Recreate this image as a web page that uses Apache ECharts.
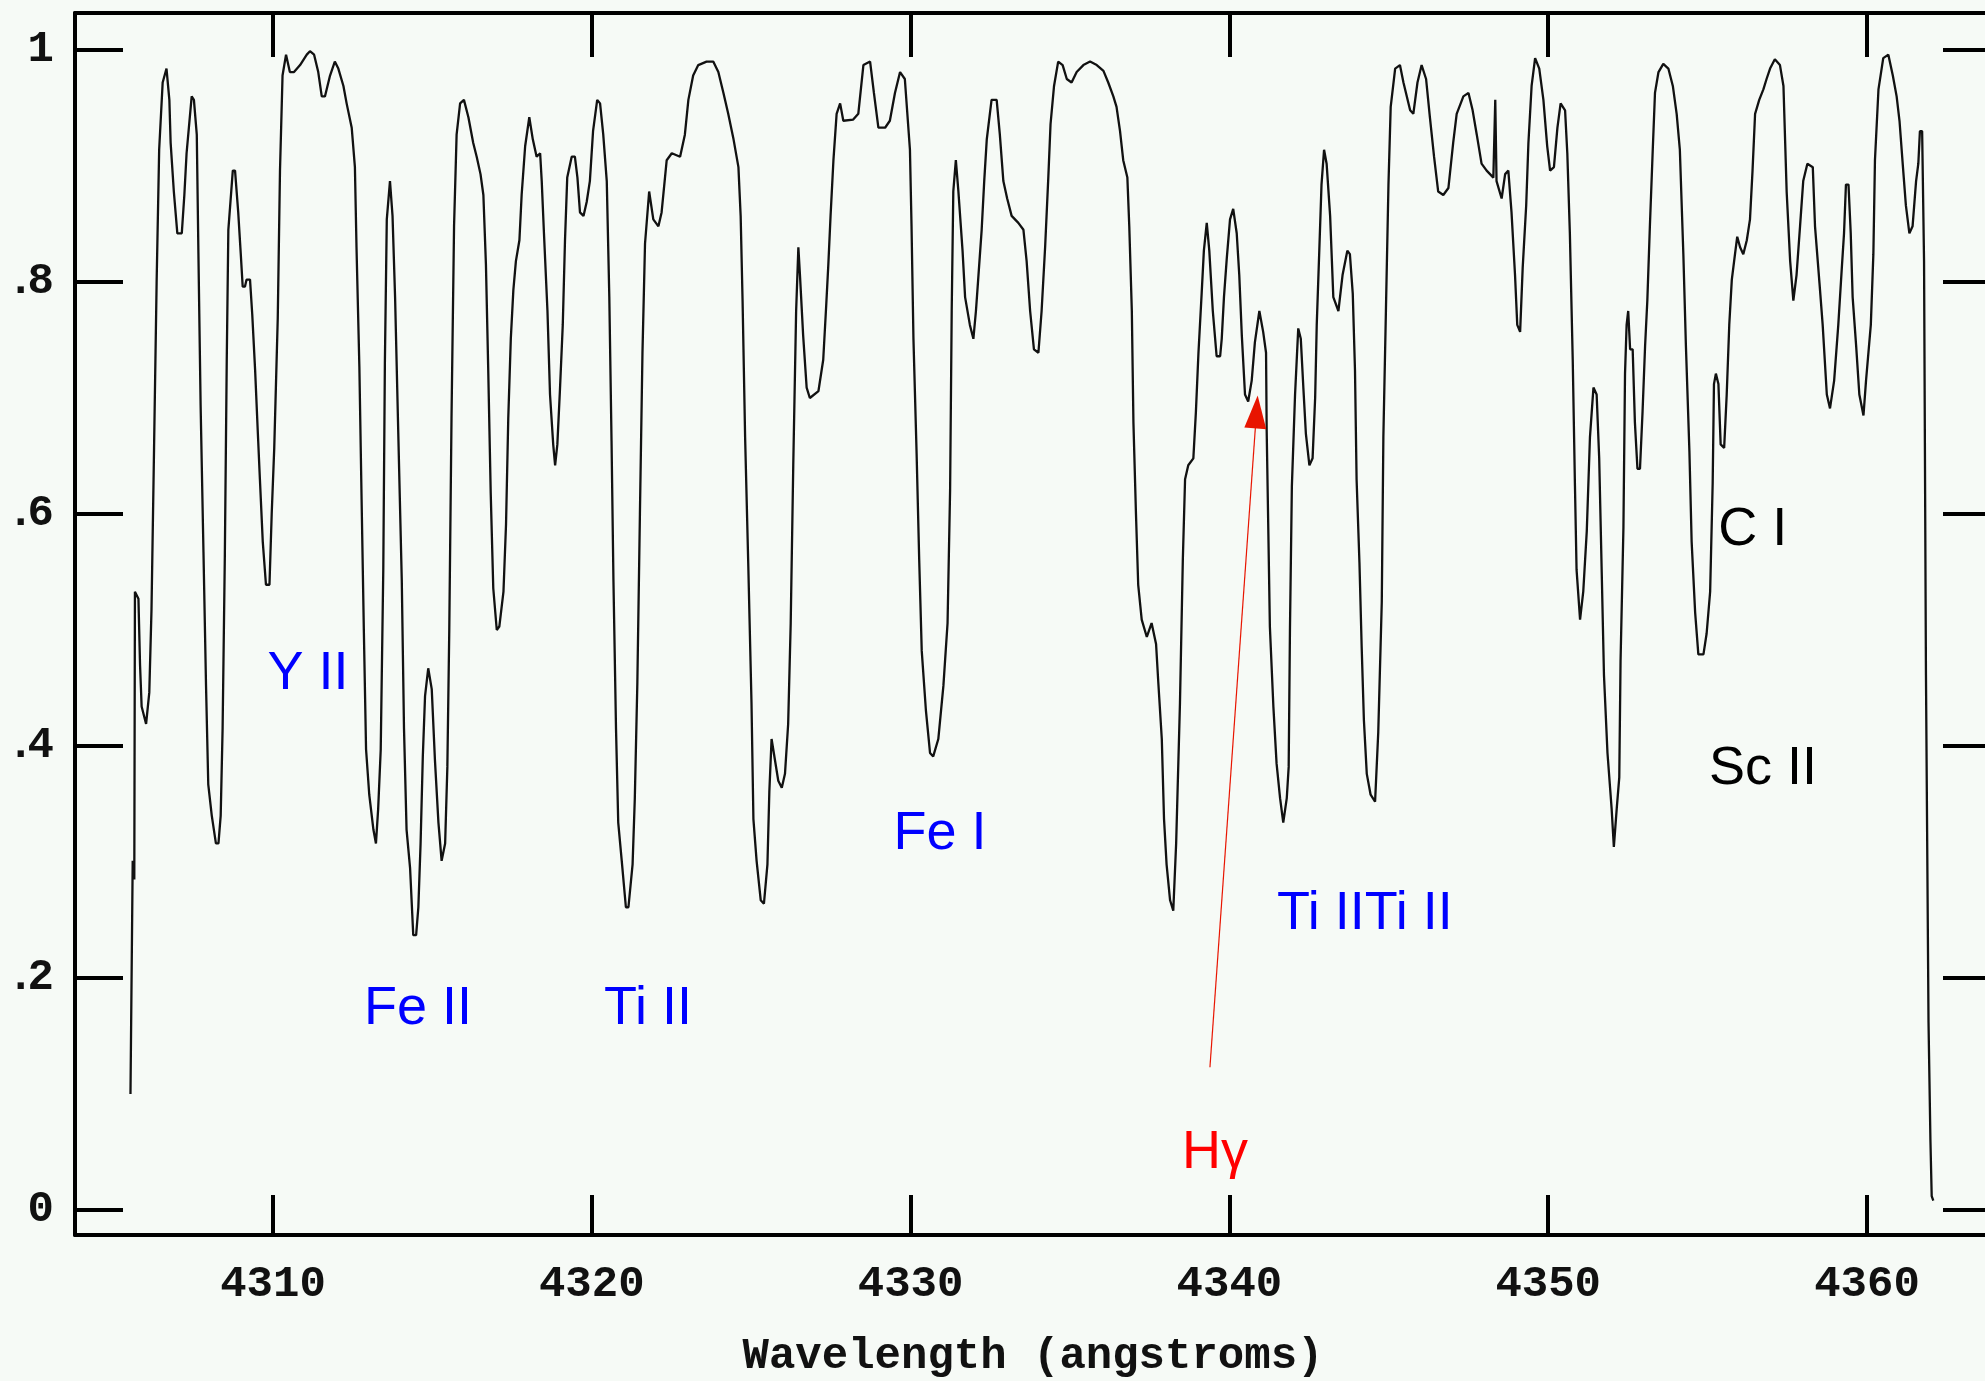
<!DOCTYPE html>
<html>
<head>
<meta charset="utf-8">
<script src="https://cdn.jsdelivr.net/npm/echarts@6/dist/echarts.min.js"></script>
<style>
html,body{margin:0;padding:0;background:#f6faf6;}
#chart{width:1985px;height:1381px;}
</style>
</head>
<body>
<div id="chart"></div>
<script>
// Normalised flux vs wavelength (angstroms), in four segments
const specA = [[4305.53,0.100],[4305.60,0.301],[4305.65,0.285],[4305.67,0.533],[4305.78,0.527],[4305.83,0.470],[4305.88,0.434],[4306.02,0.419],[4306.12,0.446],[4306.19,0.518],[4306.27,0.657],[4306.35,0.799],[4306.43,0.914],[4306.54,0.972],[4306.66,0.984],[4306.75,0.957],[4306.79,0.920],[4306.89,0.878],[4307.00,0.842],[4307.14,0.842],[4307.22,0.875],[4307.29,0.911],[4307.45,0.960],[4307.52,0.957],[4307.61,0.927],[4307.66,0.827],[4307.73,0.694],[4307.82,0.567],[4307.90,0.452],[4307.97,0.367],[4308.08,0.340],[4308.21,0.316],[4308.29,0.316],[4308.36,0.340],[4308.42,0.415],[4308.49,0.564],[4308.55,0.733],[4308.60,0.845],[4308.74,0.896],[4308.81,0.896],[4308.91,0.860],[4308.99,0.824],[4309.05,0.796],[4309.12,0.796],[4309.17,0.802],[4309.28,0.802],[4309.35,0.772],[4309.44,0.724],[4309.52,0.673],[4309.59,0.630],[4309.68,0.576],[4309.78,0.539],[4309.89,0.539],[4309.96,0.600],[4310.04,0.657],[4310.15,0.769],[4310.22,0.896],[4310.30,0.978],[4310.41,0.996],[4310.53,0.981],[4310.66,0.981],[4310.85,0.987],[4311.06,0.996],[4311.16,0.999],[4311.29,0.996],[4311.42,0.981],[4311.53,0.960],[4311.63,0.960],[4311.79,0.978],[4311.94,0.990],[4312.05,0.984],[4312.21,0.969],[4312.31,0.954],[4312.47,0.933],[4312.57,0.899],[4312.62,0.830],[4312.71,0.727],[4312.78,0.612],[4312.85,0.500],[4312.92,0.397],[4313.02,0.358],[4313.15,0.328],[4313.23,0.316],[4313.30,0.346],[4313.38,0.397],[4313.46,0.552],[4313.51,0.730],[4313.57,0.854],[4313.67,0.887],[4313.75,0.857],[4313.83,0.787],[4313.93,0.670],[4314.04,0.543],[4314.11,0.415],[4314.19,0.328],[4314.30,0.295],[4314.40,0.237],[4314.49,0.237],[4314.56,0.261],[4314.63,0.316],[4314.70,0.391],[4314.77,0.443],[4314.87,0.467],[4314.98,0.449],[4315.08,0.388],[4315.19,0.334],[4315.29,0.301],[4315.40,0.316],[4315.47,0.382],[4315.53,0.500],[4315.60,0.682],[4315.68,0.848],[4315.76,0.927],[4315.87,0.954],[4315.99,0.957],[4316.13,0.942],[4316.28,0.920],[4316.39,0.908],[4316.51,0.893],[4316.60,0.875],[4316.68,0.815],[4316.75,0.727],[4316.83,0.618],[4316.91,0.536],[4317.02,0.500],[4317.10,0.503],[4317.23,0.533],[4317.31,0.591],[4317.38,0.682],[4317.46,0.751],[4317.54,0.793],[4317.62,0.818],[4317.73,0.836],[4317.80,0.875],[4317.91,0.917],[4318.04,0.942],[4318.15,0.923],[4318.27,0.908],[4318.38,0.911],[4318.43,0.887],[4318.50,0.842],[4318.61,0.775],[4318.69,0.703],[4318.79,0.660],[4318.85,0.642],[4318.92,0.660],[4319.00,0.706],[4319.09,0.763],[4319.16,0.836],[4319.23,0.890],[4319.37,0.908],[4319.47,0.908],[4319.55,0.890],[4319.63,0.860],[4319.74,0.857],[4319.84,0.869],[4319.94,0.887]];
const specB = [[4320.04,0.930],[4320.17,0.957],[4320.26,0.954],[4320.36,0.927],[4320.47,0.887],[4320.55,0.787],[4320.62,0.663],[4320.68,0.542],[4320.76,0.415],[4320.83,0.334],[4320.94,0.301],[4321.07,0.261],[4321.15,0.261],[4321.28,0.298],[4321.35,0.355],[4321.43,0.455],[4321.51,0.600],[4321.59,0.739],[4321.67,0.833],[4321.80,0.878],[4321.93,0.854],[4322.09,0.848],[4322.19,0.860],[4322.35,0.905],[4322.51,0.911],[4322.77,0.908],[4322.92,0.927],[4323.03,0.957],[4323.18,0.978],[4323.34,0.987],[4323.60,0.990],[4323.81,0.990],[4323.97,0.981],[4324.13,0.963],[4324.28,0.945],[4324.44,0.924],[4324.60,0.899],[4324.67,0.857],[4324.73,0.784],[4324.81,0.666],[4324.91,0.555],[4325.01,0.437],[4325.07,0.337],[4325.17,0.301],[4325.30,0.267],[4325.40,0.264],[4325.51,0.298],[4325.57,0.361],[4325.64,0.406],[4325.85,0.370],[4325.96,0.364],[4326.06,0.376],[4326.16,0.419],[4326.24,0.506],[4326.32,0.642],[4326.41,0.775],[4326.48,0.830],[4326.53,0.806],[4326.63,0.754],[4326.74,0.709],[4326.84,0.700],[4327.11,0.706],[4327.26,0.733],[4327.35,0.778],[4327.42,0.815],[4327.49,0.857],[4327.58,0.905],[4327.68,0.945],[4327.79,0.954],[4327.89,0.939],[4328.20,0.940],[4328.36,0.945],[4328.52,0.987],[4328.73,0.990],[4328.85,0.963],[4328.99,0.933],[4329.20,0.933],[4329.35,0.939],[4329.51,0.963],[4329.67,0.981],[4329.82,0.975],[4329.98,0.914],[4330.03,0.848],[4330.09,0.751],[4330.19,0.651],[4330.27,0.561],[4330.35,0.482],[4330.48,0.431],[4330.61,0.394],[4330.71,0.391],[4330.87,0.406],[4331.03,0.452],[4331.16,0.506],[4331.24,0.621],[4331.29,0.775],[4331.34,0.878],[4331.42,0.905],[4331.50,0.878],[4331.63,0.827],[4331.71,0.787],[4331.86,0.763],[4331.97,0.751],[4332.05,0.775],[4332.12,0.802],[4332.23,0.845],[4332.31,0.887],[4332.39,0.923],[4332.54,0.957],[4332.70,0.957],[4332.80,0.927],[4332.91,0.887],[4333.03,0.872],[4333.17,0.857],[4333.38,0.851],[4333.54,0.845],[4333.64,0.818],[4333.75,0.775],[4333.87,0.742],[4334.01,0.739],[4334.11,0.775],[4334.22,0.830],[4334.32,0.890],[4334.39,0.936],[4334.50,0.969],[4334.63,0.990],[4334.77,0.987],[4334.90,0.975]];
const specC = [[4335.05,0.972],[4335.21,0.981],[4335.42,0.987],[4335.63,0.990],[4335.84,0.987],[4336.05,0.982],[4336.20,0.972],[4336.36,0.960],[4336.46,0.951],[4336.57,0.930],[4336.67,0.905],[4336.80,0.890],[4336.86,0.848],[4336.94,0.775],[4336.99,0.679],[4337.07,0.600],[4337.14,0.539],[4337.25,0.509],[4337.41,0.494],[4337.56,0.506],[4337.70,0.488],[4337.77,0.455],[4337.88,0.406],[4337.95,0.337],[4338.03,0.298],[4338.14,0.267],[4338.24,0.258],[4338.33,0.316],[4338.45,0.437],[4338.54,0.561],[4338.61,0.630],[4338.71,0.642],[4338.87,0.648],[4338.95,0.688],[4339.03,0.739],[4339.13,0.790],[4339.20,0.827],[4339.29,0.851],[4339.37,0.827],[4339.48,0.775],[4339.60,0.736],[4339.71,0.736],[4339.76,0.751],[4339.83,0.787],[4339.92,0.821],[4340.02,0.854],[4340.12,0.863],[4340.23,0.842],[4340.31,0.806],[4340.39,0.754],[4340.49,0.703],[4340.59,0.697],[4340.70,0.715],[4340.80,0.748],[4340.94,0.775],[4341.06,0.757],[4341.15,0.739],[4341.17,0.672],[4341.22,0.588],[4341.27,0.503],[4341.38,0.434],[4341.48,0.385],[4341.59,0.355],[4341.69,0.334],[4341.80,0.355],[4341.86,0.382],[4341.90,0.500],[4341.96,0.624],[4342.06,0.703],[4342.16,0.760],[4342.24,0.751],[4342.32,0.709],[4342.40,0.669],[4342.51,0.642],[4342.61,0.648],[4342.69,0.700],[4342.74,0.763],[4342.82,0.827],[4342.89,0.884],[4342.97,0.914],[4343.05,0.902],[4343.16,0.857],[4343.26,0.787],[4343.42,0.775],[4343.55,0.806],[4343.70,0.827],[4343.78,0.824],[4343.87,0.790],[4343.94,0.724],[4343.99,0.630],[4344.08,0.558],[4344.15,0.485],[4344.22,0.422],[4344.31,0.376],[4344.43,0.358],[4344.57,0.352],[4344.67,0.412],[4344.78,0.524],[4344.83,0.666],[4344.91,0.775],[4344.99,0.884],[4345.06,0.951],[4345.20,0.984],[4345.35,0.987],[4345.46,0.972],[4345.67,0.948],[4345.77,0.945],[4345.90,0.972],[4346.03,0.987],[4346.17,0.975],[4346.29,0.942],[4346.42,0.908],[4346.55,0.878],[4346.71,0.875],[4346.87,0.881],[4347.02,0.920],[4347.13,0.945],[4347.34,0.960],[4347.50,0.963],[4347.63,0.948],[4347.76,0.927],[4347.91,0.902],[4348.07,0.896],[4348.28,0.890],[4348.34,0.957],[4348.38,0.887],[4348.54,0.872],[4348.65,0.893],[4348.75,0.896],[4348.85,0.860],[4348.96,0.806],[4349.03,0.763],[4349.12,0.757],[4349.20,0.812],[4349.31,0.866],[4349.38,0.920],[4349.48,0.969],[4349.59,0.993],[4349.72,0.984],[4349.85,0.957],[4349.97,0.917]];
const specD = [[4350.06,0.896],[4350.18,0.899],[4350.29,0.933],[4350.39,0.954],[4350.53,0.948],[4350.60,0.911],[4350.68,0.842],[4350.77,0.733],[4350.84,0.624],[4350.89,0.552],[4351.00,0.509],[4351.10,0.533],[4351.21,0.585],[4351.31,0.666],[4351.42,0.709],[4351.52,0.703],[4351.60,0.648],[4351.68,0.549],[4351.75,0.461],[4351.86,0.394],[4351.99,0.346],[4352.06,0.313],[4352.15,0.346],[4352.23,0.373],[4352.27,0.473],[4352.36,0.588],[4352.41,0.721],[4352.46,0.763],[4352.51,0.775],[4352.57,0.742],[4352.65,0.742],[4352.72,0.679],[4352.80,0.639],[4352.88,0.639],[4352.96,0.688],[4353.04,0.745],[4353.11,0.784],[4353.19,0.848],[4353.28,0.914],[4353.35,0.963],[4353.46,0.981],[4353.61,0.988],[4353.77,0.984],[4353.91,0.969],[4354.03,0.945],[4354.13,0.914],[4354.24,0.824],[4354.32,0.745],[4354.43,0.654],[4354.50,0.576],[4354.61,0.515],[4354.71,0.479],[4354.87,0.479],[4354.97,0.497],[4355.08,0.533],[4355.16,0.627],[4355.20,0.712],[4355.26,0.721],[4355.34,0.712],[4355.41,0.660],[4355.52,0.657],[4355.60,0.703],[4355.68,0.763],[4355.76,0.802],[4355.86,0.824],[4355.93,0.839],[4356.02,0.830],[4356.12,0.824],[4356.23,0.836],[4356.33,0.854],[4356.41,0.896],[4356.49,0.945],[4356.62,0.957],[4356.75,0.966],[4356.85,0.975],[4356.96,0.984],[4357.11,0.992],[4357.27,0.987],[4357.38,0.969],[4357.48,0.878],[4357.59,0.818],[4357.69,0.784],[4357.79,0.806],[4357.90,0.848],[4358.00,0.887],[4358.13,0.902],[4358.30,0.899],[4358.37,0.848],[4358.51,0.799],[4358.61,0.763],[4358.74,0.703],[4358.84,0.691],[4358.97,0.715],[4359.10,0.763],[4359.21,0.812],[4359.28,0.842],[4359.34,0.884],[4359.42,0.884],[4359.49,0.842],[4359.55,0.787],[4359.66,0.745],[4359.76,0.703],[4359.89,0.685],[4359.97,0.715],[4360.12,0.763],[4360.20,0.824],[4360.25,0.905],[4360.36,0.966],[4360.51,0.993],[4360.67,0.996],[4360.81,0.978],[4360.93,0.960],[4361.02,0.939],[4361.12,0.902],[4361.22,0.866],[4361.33,0.842],[4361.43,0.848],[4361.54,0.887],[4361.61,0.902],[4361.66,0.930],[4361.73,0.930],[4361.79,0.818],[4361.85,0.461],[4361.93,0.162],[4361.99,0.060],[4362.03,0.012],[4362.08,0.008]];

// Axis ticks
const xTicks = [4310, 4320, 4330, 4340, 4350, 4360];
const yTicks = [0, 0.2, 0.4, 0.6, 0.8, 1];

// Line identifications: text, wavelength, flux position, colour
const lineNames  = ['Y II', 'Fe II', 'Ti II', 'Fe I', 'Ti IITi II', 'H\u03b3', 'C I', 'Sc II'];
const lineX      = [4311.10, 4314.55, 4321.76, 4330.92, 4344.25, 4339.55, 4356.42, 4356.74];
const lineY      = [0.462, 0.173, 0.173, 0.324, 0.255, 0.049, 0.586, 0.380];
const lineColors = ['#0000ff', '#0000ff', '#0000ff', '#0000ff', '#0000ff', '#ff0000', '#000000', '#000000'];

// H-gamma arrow: tail and head (wavelength, flux)
const arrowFrom = [4339.39, 0.123];
const arrowTo   = [4340.85, 0.688];

const spectrum = specA.concat(specB, specC, specD);

const tickFont = {fontFamily: 'Liberation Mono', fontWeight: 'bold', fontSize: 44, color: '#111'};

const chart = echarts.init(document.getElementById('chart'), null, {renderer: 'canvas'});
const option = {
  backgroundColor: '#f6faf6',
  animation: false,
  grid: {left: 75, top: 13, width: 1916, height: 1222, containLabel: false, outerBoundsMode: 'none'},
  xAxis: [
    {
      type: 'value', position: 'bottom', min: 4303.79, max: 4363.89,
      axisLine: {show: true, onZero: false, lineStyle: {color: '#000', width: 4}},
      axisTick: {show: true, inside: true, length: 40, customValues: xTicks, lineStyle: {color: '#000', width: 4}},
      axisLabel: Object.assign({show: true, customValues: xTicks, margin: 28, formatter: v => String(Math.round(v))}, tickFont),
      splitLine: {show: false},
      name: 'Wavelength (angstroms)', nameLocation: 'middle', nameGap: 100,
      nameTextStyle: {fontFamily: 'Liberation Mono', fontWeight: 'bold', fontSize: 44, color: '#111'}
    },
    {
      type: 'value', position: 'top', min: 4303.79, max: 4363.89,
      axisLine: {show: true, onZero: false, lineStyle: {color: '#000', width: 4}},
      axisTick: {show: true, inside: true, length: 44, customValues: xTicks, lineStyle: {color: '#000', width: 4}},
      axisLabel: {show: false},
      splitLine: {show: false}
    }
  ],
  yAxis: [
    {
      type: 'value', position: 'left', min: -0.02155, max: 1.0319,
      axisLine: {show: true, onZero: false, lineStyle: {color: '#000', width: 4}},
      axisTick: {show: true, inside: true, length: 48, customValues: yTicks, lineStyle: {color: '#000', width: 4}},
      axisLabel: Object.assign({show: true, customValues: yTicks, margin: 21, align: 'right',
        formatter: v => { if (Math.abs(v) < 1e-9) return '0'; if (Math.abs(v - 1) < 1e-9) return '1'; return '{dot|.}' + Math.round(v * 10); },
        rich: {dot: {fontFamily: 'Liberation Mono', fontWeight: 'bold', fontSize: 44, color: '#111', width: 20, align: 'left'}}
      }, tickFont),
      splitLine: {show: false}
    },
    {
      type: 'value', position: 'right', min: -0.02155, max: 1.0319,
      axisLine: {show: true, onZero: false, lineStyle: {color: '#000', width: 4}},
      axisTick: {show: true, inside: true, length: 48, customValues: yTicks, lineStyle: {color: '#000', width: 4}},
      axisLabel: {show: false},
      splitLine: {show: false}
    }
  ],
  series: [
    {
      type: 'line',
      xAxisIndex: 0, yAxisIndex: 0,
      data: spectrum,
      showSymbol: false,
      symbol: 'none',
      lineStyle: {color: '#111111', width: 2.3},
      emphasis: {disabled: true},
      markPoint: {
        silent: true,
        symbol: 'rect', symbolSize: 1,
        itemStyle: {color: 'rgba(0,0,0,0)'},
        data: lineNames.map((n, i) => ({
          name: n, coord: [lineX[i], lineY[i]],
          label: {show: true, position: 'inside', formatter: n, color: lineColors[i],
                  fontFamily: 'Liberation Sans', fontSize: 54, fontWeight: 'normal'}
        }))
      },
      markLine: {
        silent: true,
        animation: false,
        symbolSize: [22, 33],
        label: {show: false},
        lineStyle: {color: '#e81400', width: 1.2, type: 'solid'},
        data: [[
          {coord: arrowFrom, symbol: 'none'},
          {coord: arrowTo, symbol: 'triangle'}
        ]]
      }
    }
  ]
};
chart.setOption(option);
</script>
</body>
</html>
